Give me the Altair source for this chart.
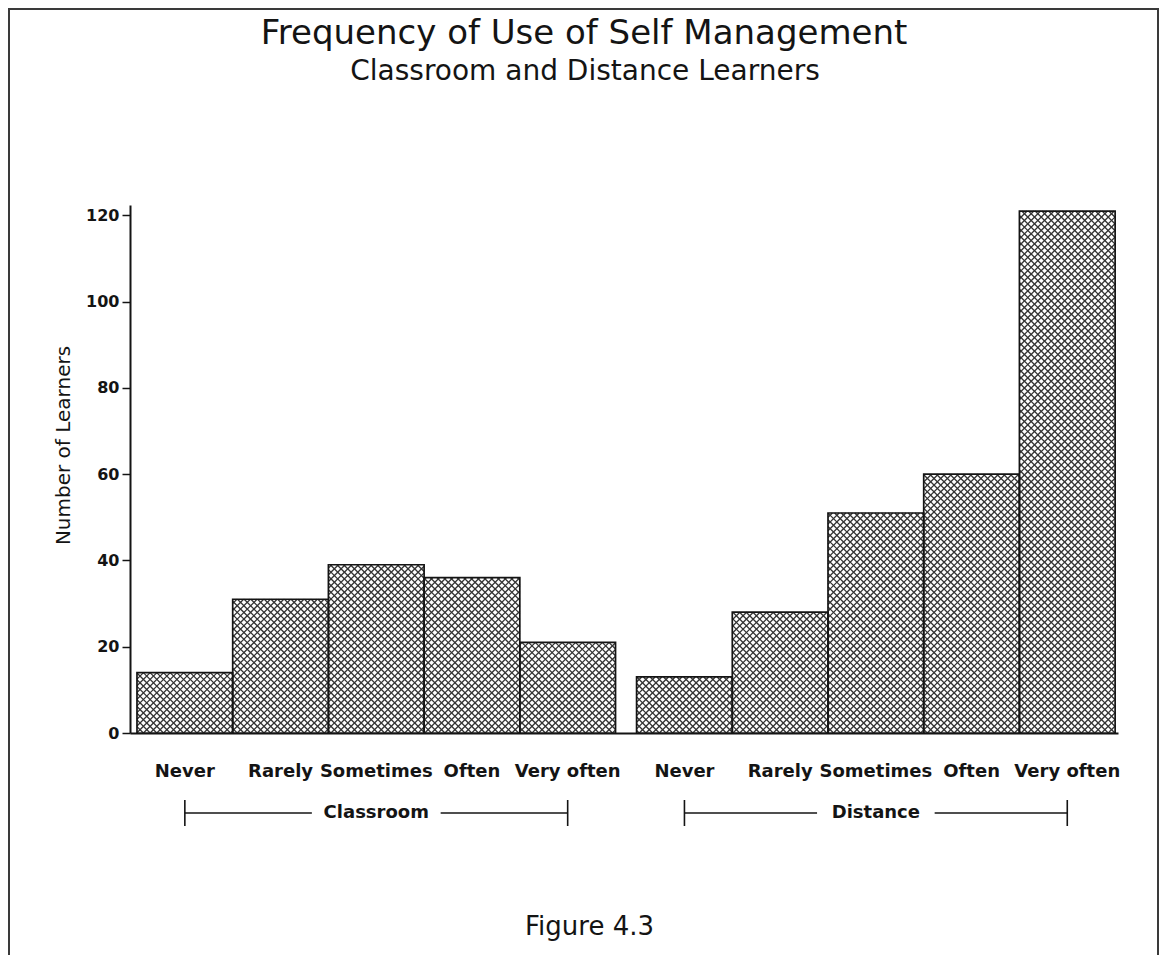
import altair as alt
import pandas as pd
import numpy as np

# ---------------- data ----------------
groups = ["Classroom", "Distance"]
categories = ["Never", "Rarely", "Sometimes", "Often", "Very often"]
classroom = [14, 31, 39, 36, 21]
distance = [13, 28, 51, 60, 121]

title_text = "Frequency of Use of Self Management"
subtitle_text = "Classroom and Distance Learners"
y_title = "Number of Learners"
figure_label = "Figure 4.3"
y_ticks = [0, 20, 40, 60, 80, 100, 120]

# ---------------- layout ----------------
W, H = 988, 528
GAP = 0.22            # gap between the two groups, in bar widths
X_MIN, X_MAX = -0.073, 10.25
Y_MAX = 122.4
kx = W / (X_MAX - X_MIN)
ky = H / Y_MAX
FONT = "DejaVu Sans"
INK = "#141414"

rows = []
for gi, vals in enumerate([classroom, distance]):
    for i, (c, v) in enumerate(zip(categories, vals)):
        x0 = gi * (len(categories) + GAP) + i
        rows.append(dict(group=groups[gi], category=c, value=v,
                         x0=x0, x1=x0 + 1, xc=x0 + 0.5))
bars = pd.DataFrame(rows)

# cross-hatch segments clipped to each bar (derived from bar values)
P = 6.7  # horizontal pitch in px
hatch = []
for _, b in bars.iterrows():
    u0 = (b.x0 - X_MIN) * kx
    u1 = (b.x1 - X_MIN) * kx
    vh = b.value * ky
    for k in range(int(np.floor(-u1 / P)) - 1, int(np.ceil((vh - u0) / P)) + 2):
        c = k * P
        lo, hi = max(u0, -c), min(u1, vh - c)
        if hi - lo > 0.3:
            hatch.append((lo, lo + c, hi, hi + c))
    for k in range(int(np.floor(u0 / P)) - 1, int(np.ceil((u1 + vh) / P)) + 2):
        c = k * P
        lo, hi = max(u0, c - vh), min(u1, c)
        if hi - lo > 0.3:
            hatch.append((lo, c - lo, hi, c - hi))
hatch = pd.DataFrame(hatch, columns=["ua", "va", "ub", "vb"])
hatch["hx"] = hatch.ua / kx + X_MIN
hatch["hx2"] = hatch.ub / kx + X_MIN
hatch["hy"] = hatch.va / ky
hatch["hy2"] = hatch.vb / ky

# group brackets
grp = bars.groupby("group", sort=False).agg(first=("xc", "min"), last=("xc", "max")).reset_index()
grp["center"] = (grp["first"] + grp["last"]) / 2
grp["half_gap"] = grp["group"].str.len().apply(lambda n: (n * 5.6 + 14) / kx)
seg_left = pd.DataFrame({"a": grp["first"], "b": grp["center"] - grp["half_gap"]})
seg_right = pd.DataFrame({"a": grp["center"] + grp["half_gap"], "b": grp["last"]})
segs = pd.concat([seg_left, seg_right], ignore_index=True)
ends = pd.DataFrame({"e": list(grp["first"]) + list(grp["last"])})

xscale = alt.Scale(domain=[X_MIN, X_MAX], nice=False, zero=False)
yscale = alt.Scale(domain=[0, Y_MAX], nice=False, zero=False)

x_axis = alt.Axis(labels=False, ticks=False, grid=False, domainColor=INK, domainWidth=2,
                  title=figure_label, titleFont=FONT, titleFontSize=26, titleFontWeight="normal",
                  titleColor=INK, titleX=459, titleY=201, titleBaseline="alphabetic")
y_axis = alt.Axis(values=y_ticks, tickSize=8, tickWidth=1.5, tickColor=INK, domainColor=INK,
                  domainWidth=2, labelFont=FONT, labelFontWeight="bold", labelFontSize=16,
                  labelColor=INK, labelPadding=3, grid=False, title=y_title, titleFont=FONT,
                  titleFontWeight="normal", titleFontSize=20, titleColor=INK,
                  titleX=-67, titleY=240, titleAngle=-90, titleBaseline="middle")


def X(field):
    return alt.X(field, scale=xscale, axis=x_axis, title=figure_label)


def Y(field):
    return alt.Y(field, scale=yscale, axis=y_axis, title=y_title)


base = alt.Chart(bars)
bar_fill = base.mark_rect(fill="white").encode(
    x=X("x0:Q"), x2="x1:Q", y=Y("value:Q"), y2=alt.datum(0))

hatch_layer = alt.Chart(hatch).mark_rule(stroke="#333333", strokeWidth=1.3).encode(
    x=X("hx:Q"), x2="hx2:Q", y=Y("hy:Q"), y2="hy2:Q")

bar_outline = base.mark_rect(fill="transparent", stroke=INK, strokeWidth=1.7).encode(
    x=X("x0:Q"), x2="x1:Q", y=Y("value:Q"), y2=alt.datum(0))

cat_labels = base.mark_text(font=FONT, fontSize=18, fontWeight="bold", color=INK,
                            baseline="middle", align="center").encode(
    x=X("xc:Q"), y=alt.value(567), text="category:N")

bracket_lines = alt.Chart(segs).mark_rule(stroke=INK, strokeWidth=1.6).encode(
    x=X("a:Q"), x2="b:Q", y=alt.value(608))
bracket_ends = alt.Chart(ends).mark_rule(stroke=INK, strokeWidth=1.6).encode(
    x=X("e:Q"), y=alt.value(595), y2=alt.value(621))
group_labels = alt.Chart(grp).mark_text(font=FONT, fontSize=18, fontWeight="bold", color=INK,
                                        baseline="middle", align="center").encode(
    x=X("center:Q"), y=alt.value(608), text="group:N")

one = pd.DataFrame({"t": [title_text], "s": [subtitle_text]})
title_layer = alt.Chart(one).mark_text(font=FONT, fontSize=34, color=INK, align="center",
                                       baseline="alphabetic").encode(
    x=alt.value(454), y=alt.value(-161), text="t:N")
subtitle_layer = alt.Chart(one).mark_text(font=FONT, fontSize=28, color=INK, align="center",
                                          baseline="alphabetic").encode(
    x=alt.value(455), y=alt.value(-125), text="s:N")
frame = alt.Chart(one).mark_rect(fill="transparent", stroke="#3a3a3a", strokeWidth=2).encode(
    x=alt.value(-121), x2=alt.value(W + 40), y=alt.value(-196), y2=alt.value(H + 400))

chart = alt.layer(
    frame, bar_fill, hatch_layer, bar_outline, cat_labels,
    bracket_lines, bracket_ends, group_labels, title_layer, subtitle_layer
).properties(
    width=W, height=H,
    autosize=alt.AutoSizeParams(type="none"),
    padding={"left": 122, "top": 197, "right": 42, "bottom": 222},
    background="white",
).configure_view(stroke="transparent")

chart.save("out.html", embed_options={"renderer": "svg", "actions": False})
